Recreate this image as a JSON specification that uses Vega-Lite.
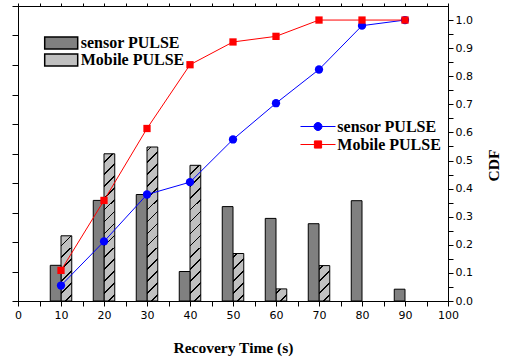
{
  "$schema": "https://vega.github.io/schema/vega-lite/v6.json",
  "width": 430,
  "height": 295,
  "autosize": {"type": "none"},
  "padding": {"left": 18, "top": 6, "right": 60, "bottom": 61},
  "background": "white",
  "config": {
    "view": {"stroke": "black", "strokeWidth": 1},
    "axis": {
      "labelFont": "DejaVu Sans", "labelFontSize": 11, "labelColor": "black",
      "titleFont": "Liberation Serif", "titleFontWeight": "bold", "titleFontSize": 15.5, "titleColor": "black",
      "domainColor": "black", "tickColor": "black", "grid": false, "zindex": 1
    },
    "legend": {
      "labelFont": "Liberation Serif", "labelFontWeight": "bold", "labelFontSize": 16, "labelColor": "black",
      "padding": 0, "offset": 0
    }
  },
  "datasets": {
    "bars": [
      {"t": 10, "kind": "sensor PULSE", "count": 1.21},
      {"t": 20, "kind": "sensor PULSE", "count": 3.41},
      {"t": 30, "kind": "sensor PULSE", "count": 3.61},
      {"t": 40, "kind": "sensor PULSE", "count": 1.0},
      {"t": 50, "kind": "sensor PULSE", "count": 3.2},
      {"t": 60, "kind": "sensor PULSE", "count": 2.8},
      {"t": 70, "kind": "sensor PULSE", "count": 2.62},
      {"t": 80, "kind": "sensor PULSE", "count": 3.4},
      {"t": 90, "kind": "sensor PULSE", "count": 0.4},
      {"t": 10, "kind": "Mobile PULSE", "count": 2.21},
      {"t": 20, "kind": "Mobile PULSE", "count": 4.99},
      {"t": 30, "kind": "Mobile PULSE", "count": 5.22},
      {"t": 40, "kind": "Mobile PULSE", "count": 4.6},
      {"t": 50, "kind": "Mobile PULSE", "count": 1.61},
      {"t": 60, "kind": "Mobile PULSE", "count": 0.41},
      {"t": 70, "kind": "Mobile PULSE", "count": 1.2}
    ],
    "cdf": [
      {"t": 10, "series": "sensor PULSE", "cdf": 0.055},
      {"t": 20, "series": "sensor PULSE", "cdf": 0.212},
      {"t": 30, "series": "sensor PULSE", "cdf": 0.379},
      {"t": 40, "series": "sensor PULSE", "cdf": 0.423},
      {"t": 50, "series": "sensor PULSE", "cdf": 0.575},
      {"t": 60, "series": "sensor PULSE", "cdf": 0.704},
      {"t": 70, "series": "sensor PULSE", "cdf": 0.824},
      {"t": 80, "series": "sensor PULSE", "cdf": 0.98},
      {"t": 90, "series": "sensor PULSE", "cdf": 1.0},
      {"t": 10, "series": "Mobile PULSE", "cdf": 0.109},
      {"t": 20, "series": "Mobile PULSE", "cdf": 0.358},
      {"t": 30, "series": "Mobile PULSE", "cdf": 0.614},
      {"t": 40, "series": "Mobile PULSE", "cdf": 0.841},
      {"t": 50, "series": "Mobile PULSE", "cdf": 0.922},
      {"t": 60, "series": "Mobile PULSE", "cdf": 0.942},
      {"t": 70, "series": "Mobile PULSE", "cdf": 1.0},
      {"t": 80, "series": "Mobile PULSE", "cdf": 1.0},
      {"t": 90, "series": "Mobile PULSE", "cdf": 1.0}
    ]
  },
  "layer": [
    {
      "data": {"name": "bars"},
      "transform": [{"filter": "datum.kind === 'Mobile PULSE'"}],
      "mark": {
        "type": "bar", "width": 10.75, "xOffset": 5.375, "strokeWidth": 0,
        "fill": {
          "gradient": "linear", "x1": 0, "y1": 0, "x2": 0.0379, "y2": 1.04,
          "stops": [
            {"offset": 0, "color": "#c0c0c0"},
            {"offset": 0.0341, "color": "#c0c0c0"}, {"offset": 0.0341, "color": "#000000"}, {"offset": 0.0391, "color": "#000000"}, {"offset": 0.0391, "color": "#c0c0c0"},
            {"offset": 0.0731, "color": "#c0c0c0"}, {"offset": 0.0731, "color": "#000000"}, {"offset": 0.0781, "color": "#000000"}, {"offset": 0.0781, "color": "#c0c0c0"},
            {"offset": 0.1122, "color": "#c0c0c0"}, {"offset": 0.1122, "color": "#000000"}, {"offset": 0.1172, "color": "#000000"}, {"offset": 0.1172, "color": "#c0c0c0"},
            {"offset": 0.1513, "color": "#c0c0c0"}, {"offset": 0.1513, "color": "#000000"}, {"offset": 0.1563, "color": "#000000"}, {"offset": 0.1563, "color": "#c0c0c0"},
            {"offset": 0.1903, "color": "#c0c0c0"}, {"offset": 0.1903, "color": "#000000"}, {"offset": 0.1953, "color": "#000000"}, {"offset": 0.1953, "color": "#c0c0c0"},
            {"offset": 0.2294, "color": "#c0c0c0"}, {"offset": 0.2294, "color": "#000000"}, {"offset": 0.2344, "color": "#000000"}, {"offset": 0.2344, "color": "#c0c0c0"},
            {"offset": 0.2684, "color": "#c0c0c0"}, {"offset": 0.2684, "color": "#000000"}, {"offset": 0.2734, "color": "#000000"}, {"offset": 0.2734, "color": "#c0c0c0"},
            {"offset": 0.3075, "color": "#c0c0c0"}, {"offset": 0.3075, "color": "#000000"}, {"offset": 0.3125, "color": "#000000"}, {"offset": 0.3125, "color": "#c0c0c0"},
            {"offset": 0.3466, "color": "#c0c0c0"}, {"offset": 0.3466, "color": "#000000"}, {"offset": 0.3516, "color": "#000000"}, {"offset": 0.3516, "color": "#c0c0c0"},
            {"offset": 0.3856, "color": "#c0c0c0"}, {"offset": 0.3856, "color": "#000000"}, {"offset": 0.3906, "color": "#000000"}, {"offset": 0.3906, "color": "#c0c0c0"},
            {"offset": 0.4247, "color": "#c0c0c0"}, {"offset": 0.4247, "color": "#000000"}, {"offset": 0.4297, "color": "#000000"}, {"offset": 0.4297, "color": "#c0c0c0"},
            {"offset": 0.4638, "color": "#c0c0c0"}, {"offset": 0.4638, "color": "#000000"}, {"offset": 0.4688, "color": "#000000"}, {"offset": 0.4688, "color": "#c0c0c0"},
            {"offset": 0.5028, "color": "#c0c0c0"}, {"offset": 0.5028, "color": "#000000"}, {"offset": 0.5078, "color": "#000000"}, {"offset": 0.5078, "color": "#c0c0c0"},
            {"offset": 0.5419, "color": "#c0c0c0"}, {"offset": 0.5419, "color": "#000000"}, {"offset": 0.5469, "color": "#000000"}, {"offset": 0.5469, "color": "#c0c0c0"},
            {"offset": 0.5809, "color": "#c0c0c0"}, {"offset": 0.5809, "color": "#000000"}, {"offset": 0.5859, "color": "#000000"}, {"offset": 0.5859, "color": "#c0c0c0"},
            {"offset": 0.62, "color": "#c0c0c0"}, {"offset": 0.62, "color": "#000000"}, {"offset": 0.625, "color": "#000000"}, {"offset": 0.625, "color": "#c0c0c0"},
            {"offset": 0.6591, "color": "#c0c0c0"}, {"offset": 0.6591, "color": "#000000"}, {"offset": 0.6641, "color": "#000000"}, {"offset": 0.6641, "color": "#c0c0c0"},
            {"offset": 0.6981, "color": "#c0c0c0"}, {"offset": 0.6981, "color": "#000000"}, {"offset": 0.7031, "color": "#000000"}, {"offset": 0.7031, "color": "#c0c0c0"},
            {"offset": 0.7372, "color": "#c0c0c0"}, {"offset": 0.7372, "color": "#000000"}, {"offset": 0.7422, "color": "#000000"}, {"offset": 0.7422, "color": "#c0c0c0"},
            {"offset": 0.7763, "color": "#c0c0c0"}, {"offset": 0.7763, "color": "#000000"}, {"offset": 0.7813, "color": "#000000"}, {"offset": 0.7813, "color": "#c0c0c0"},
            {"offset": 0.8153, "color": "#c0c0c0"}, {"offset": 0.8153, "color": "#000000"}, {"offset": 0.8203, "color": "#000000"}, {"offset": 0.8203, "color": "#c0c0c0"},
            {"offset": 0.8544, "color": "#c0c0c0"}, {"offset": 0.8544, "color": "#000000"}, {"offset": 0.8594, "color": "#000000"}, {"offset": 0.8594, "color": "#c0c0c0"},
            {"offset": 0.8934, "color": "#c0c0c0"}, {"offset": 0.8934, "color": "#000000"}, {"offset": 0.8984, "color": "#000000"}, {"offset": 0.8984, "color": "#c0c0c0"},
            {"offset": 0.9325, "color": "#c0c0c0"}, {"offset": 0.9325, "color": "#000000"}, {"offset": 0.9375, "color": "#000000"}, {"offset": 0.9375, "color": "#c0c0c0"},
            {"offset": 0.9716, "color": "#c0c0c0"}, {"offset": 0.9716, "color": "#000000"}, {"offset": 0.9766, "color": "#000000"}, {"offset": 0.9766, "color": "#c0c0c0"},
            {"offset": 1, "color": "#c0c0c0"}
          ]
        }
      },
      "encoding": {
        "x": {"field": "t", "type": "quantitative", "scale": {"domain": [0, 100], "nice": false, "zero": false, "padding": 0}, "axis": null},
        "y": {
          "datum": 9.9, "type": "quantitative",
          "scale": {"domain": [0, 10], "nice": false},
          "axis": {"orient": "left", "values": [0, 1, 2, 3, 4, 5, 6, 7, 8, 9, 10], "labels": false, "tickSize": 6, "title": null}
        },
        "y2": {"datum": 0}
      }
    },
    {
      "data": {"name": "bars"},
      "transform": [{"filter": "datum.kind === 'Mobile PULSE'"}],
      "mark": {"type": "bar", "width": 12, "xOffset": 5.375, "fill": "white", "strokeWidth": 0},
      "encoding": {
        "x": {"field": "t", "type": "quantitative", "axis": null},
        "y": {"field": "count", "type": "quantitative", "scale": {"domain": [0, 10], "nice": false}, "axis": null},
        "y2": {"datum": 9.9}
      }
    },
    {
      "data": {"name": "bars"},
      "transform": [{"filter": "datum.kind === 'Mobile PULSE'"}],
      "mark": {"type": "bar", "width": 10.75, "xOffset": 5.375, "fill": "transparent", "stroke": "black", "strokeWidth": 1},
      "encoding": {
        "x": {"field": "t", "type": "quantitative", "axis": null},
        "y": {"field": "count", "type": "quantitative", "scale": {"domain": [0, 10], "nice": false}, "axis": null}
      }
    },
    {
      "data": {"name": "bars"},
      "transform": [{"filter": "datum.kind === 'sensor PULSE'"}],
      "mark": {"type": "bar", "width": 10.75, "xOffset": -5.375, "stroke": "black", "strokeWidth": 1, "opacity": 1},
      "encoding": {
        "x": {
          "field": "t", "type": "quantitative",
          "axis": {
            "orient": "bottom",
            "values": [0, 5, 10, 15, 20, 25, 30, 35, 40, 45, 50, 55, 60, 65, 70, 75, 80, 85, 90, 95, 100],
            "labelExpr": "datum.value % 10 === 0 ? datum.label : ''",
            "tickSize": 5, "labelPadding": 3, "labelFlush": false, "labelOverlap": false,
            "title": "Recovery Time (s)", "titleY": 51.5, "titleBaseline": "alphabetic",
            "encode": {"ticks": {"update": {"y2": {"signal": "datum.value % 10 === 0 ? 5 : 3"}}}}
          }
        },
        "y": {"field": "count", "type": "quantitative", "scale": {"domain": [0, 10], "nice": false}, "axis": null},
        "fill": {
          "field": "kind", "type": "nominal",
          "scale": {"domain": ["sensor PULSE", "Mobile PULSE"], "range": ["#808080", "#c0c0c0"]},
          "legend": {
            "title": null, "orient": "none", "legendX": 35.2, "legendY": 29,
            "symbolType": "M-2.75,-1H2.75V1H-2.75Z", "symbolSize": 144,
            "labelOffset": 11.5, "rowPadding": -1.5,
            "encode": {
              "symbols": {
                "update": {
                  "fill": [
                    {"test": "datum.value === 'Mobile PULSE'", "value": {
                      "gradient": "linear", "x1": 0, "y1": 0, "x2": 1.2045, "y2": 0.438,
                      "stops": [
                        {"offset": 0, "color": "#c0c0c0"},
                        {"offset": 0.169, "color": "#c0c0c0"}, {"offset": 0.169, "color": "#000000"}, {"offset": 0.2, "color": "#000000"}, {"offset": 0.2, "color": "#c0c0c0"},
                        {"offset": 0.369, "color": "#c0c0c0"}, {"offset": 0.369, "color": "#000000"}, {"offset": 0.4, "color": "#000000"}, {"offset": 0.4, "color": "#c0c0c0"},
                        {"offset": 0.569, "color": "#c0c0c0"}, {"offset": 0.569, "color": "#000000"}, {"offset": 0.6, "color": "#000000"}, {"offset": 0.6, "color": "#c0c0c0"},
                        {"offset": 0.769, "color": "#c0c0c0"}, {"offset": 0.769, "color": "#000000"}, {"offset": 0.8, "color": "#000000"}, {"offset": 0.8, "color": "#c0c0c0"},
                        {"offset": 1, "color": "#c0c0c0"}
                      ]
                    }},
                    {"value": "#808080"}
                  ],
                  "stroke": {"value": "black"},
                  "strokeWidth": {"value": 1},
                  "opacity": {"value": 1},
                  "fillOpacity": {"value": 1}
                }
              }
            }
          }
        }
      }
    },
    {
      "data": {"name": "cdf"},
      "mark": {"type": "line", "strokeWidth": 1},
      "encoding": {
        "x": {
          "field": "t", "type": "quantitative",
          "axis": {
            "orient": "top",
            "values": [0, 5, 10, 15, 20, 25, 30, 35, 40, 45, 50, 55, 60, 65, 70, 75, 80, 85, 90, 95, 100],
            "labels": false, "tickSize": 3, "domain": true, "title": null,
            "encode": {"ticks": {"update": {"y2": {"value": 3}}}}
          }
        },
        "y": {"field": "cdf", "type": "quantitative", "scale": {"domain": [0, 1.05], "nice": false}, "axis": null},
        "color": {
          "field": "series", "type": "nominal", "sort": ["sensor PULSE", "Mobile PULSE"],
          "scale": {"range": ["#0000ff", "#ff0000"]},
          "legend": {
            "title": null, "orient": "none", "legendX": 292, "legendY": 112.5,
            "symbolSize": 64, "labelOffset": 11.3, "rowPadding": 2,
            "encode": {
              "symbols": {
                "update": {
                  "shape": [
                    {"test": "datum.value === 'sensor PULSE'", "value": "M-4.375,0H4.375M1,0A1,1,0,1,1,-1,0A1,1,0,1,1,1,0Z"},
                    {"value": "M-4.375,0H4.375M-0.9,-0.9H0.9V0.9H-0.9Z"}
                  ],
                  "fill": [{"test": "datum.value === 'sensor PULSE'", "value": "#0000ff"}, {"value": "#ff0000"}],
                  "stroke": [{"test": "datum.value === 'sensor PULSE'", "value": "#0000ff"}, {"value": "#ff0000"}],
                  "strokeWidth": {"value": 1},
                  "opacity": {"value": 1},
                  "fillOpacity": {"value": 1}
                }
              }
            }
          }
        }
      }
    },
    {
      "data": {"name": "cdf"},
      "mark": {"type": "point", "filled": true, "opacity": 1},
      "encoding": {
        "x": {"field": "t", "type": "quantitative", "axis": null},
        "y": {
          "field": "cdf", "type": "quantitative",
          "scale": {"domain": [0, 1.05], "nice": false},
          "axis": {
            "orient": "right",
            "values": [0, 0.05, 0.1, 0.15, 0.2, 0.25, 0.3, 0.35, 0.4, 0.45, 0.5, 0.55, 0.6, 0.65, 0.7, 0.75, 0.8, 0.85, 0.9, 0.95, 1.0],
            "labelExpr": "round(datum.value * 100) % 10 === 0 ? format(datum.value, '.1f') : ''",
            "tickSize": 5, "labelPadding": 2, "labelFlush": false, "labelOverlap": false,
            "title": "CDF", "titleAngle": 270, "titleX": 45, "titleY": 159,
            "titleAlign": "center", "titleBaseline": "middle",
            "encode": {"ticks": {"update": {"x2": {"signal": "round(datum.value * 100) % 10 === 0 ? 5 : 3"}}}}
          }
        },
        "color": {
          "field": "series", "type": "nominal", "sort": ["sensor PULSE", "Mobile PULSE"],
          "scale": {"range": ["#0000ff", "#ff0000"]},
          "legend": {
            "title": null, "orient": "none", "legendX": 292, "legendY": 112.5,
            "symbolSize": 64, "labelOffset": 11.3, "rowPadding": 2,
            "encode": {
              "symbols": {
                "update": {
                  "shape": [
                    {"test": "datum.value === 'sensor PULSE'", "value": "M-4.375,0H4.375M1,0A1,1,0,1,1,-1,0A1,1,0,1,1,1,0Z"},
                    {"value": "M-4.375,0H4.375M-0.9,-0.9H0.9V0.9H-0.9Z"}
                  ],
                  "fill": [{"test": "datum.value === 'sensor PULSE'", "value": "#0000ff"}, {"value": "#ff0000"}],
                  "stroke": [{"test": "datum.value === 'sensor PULSE'", "value": "#0000ff"}, {"value": "#ff0000"}],
                  "strokeWidth": {"value": 1},
                  "opacity": {"value": 1},
                  "fillOpacity": {"value": 1}
                }
              }
            }
          }
        },
        "shape": {
          "field": "series", "type": "nominal", "sort": "descending",
          "scale": {"range": ["circle", "square"]},
          "legend": null
        },
        "size": {
          "field": "series", "type": "nominal", "sort": "descending",
          "scale": {"range": [69, 53]},
          "legend": null
        }
      }
    }
  ],
  "resolve": {"scale": {"y": "independent"}}
}
